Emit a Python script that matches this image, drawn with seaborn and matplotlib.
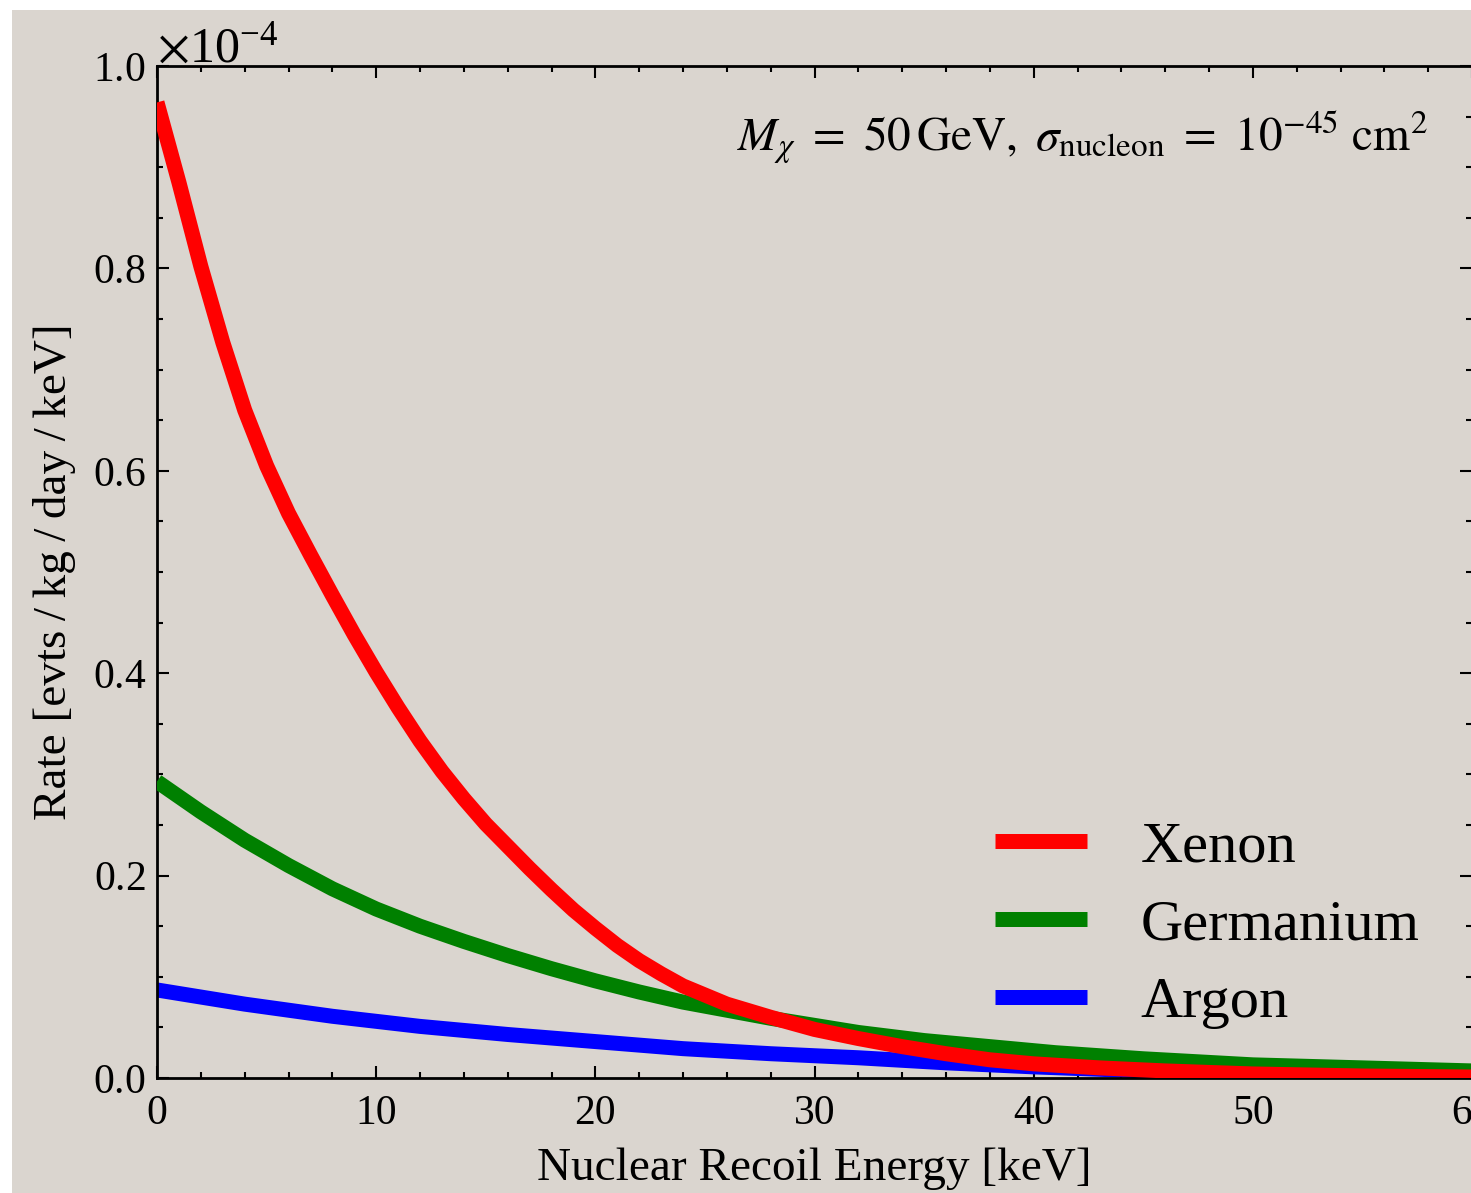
import numpy as np
import pandas as pd
import matplotlib
matplotlib.use("Agg")
import matplotlib.pyplot as plt
import seaborn as sns
from matplotlib.patches import Rectangle
from matplotlib.ticker import MultipleLocator

# ---- data (rate in units of 1e-4 evts/kg/day/keV) ----
SCALE = 1e-4
xenon_E = [0, 1, 2, 3, 4, 5, 6, 7, 8, 9, 10, 11, 12, 13, 14, 15, 16, 17, 18, 19, 20, 21, 22, 23, 24,
           26, 28, 30, 32, 34, 36, 38, 40, 43, 46, 50, 55, 60]
xenon_R = [0.964, 0.885, 0.802, 0.727, 0.660, 0.605, 0.558, 0.517, 0.477, 0.438, 0.401, 0.366,
           0.333, 0.303, 0.276, 0.251, 0.229, 0.207, 0.186, 0.166, 0.148, 0.131, 0.116, 0.103, 0.091,
           0.073, 0.060, 0.048, 0.039, 0.031, 0.024, 0.018, 0.014, 0.010, 0.007, 0.004, 0.002, 0.001]

germanium_E = [0, 2, 4, 6, 8, 10, 12, 14, 16, 18, 20, 22, 24, 26, 28, 30, 32, 35, 38, 41, 45, 50, 55, 60]
germanium_R = [0.293, 0.263, 0.235, 0.210, 0.187, 0.167, 0.150, 0.135, 0.121, 0.108, 0.096, 0.085,
               0.075, 0.067, 0.059, 0.052, 0.045, 0.037, 0.031, 0.025, 0.019, 0.013, 0.010, 0.007]

argon_E = [0, 4, 8, 12, 16, 20, 24, 28, 32, 36, 40, 45, 50, 55, 60]
argon_R = [0.087, 0.073, 0.061, 0.051, 0.043, 0.036, 0.029, 0.024, 0.020, 0.015, 0.011, 0.007, 0.004, 0.002, 0.001]

series = [("Xenon", xenon_E, xenon_R, "#ff0000", 4),
          ("Germanium", germanium_E, germanium_R, "#008000", 3),
          ("Argon", argon_E, argon_R, "#0000ff", 2)]

x_label = "Nuclear Recoil Energy [keV]"
y_label = "Rate [evts\u2009/\u2009kg\u2009/\u2009day\u2009/\u2009keV]"
annotation = r"$M_\chi\ =\ 50\,\mathrm{GeV},\ \sigma_{\mathrm{nucleon}}\ =\ 10^{-45}\ \mathrm{cm}^2$"

# ---- style ----
sns.set_theme(style="ticks")
BG = "#dad5cf"
plt.rcParams["font.family"] = ["Liberation Serif", "DejaVu Serif"]
plt.rcParams["mathtext.fontset"] = "stix"
plt.rcParams["axes.edgecolor"] = "black"
plt.rcParams["xtick.color"] = "black"
plt.rcParams["ytick.color"] = "black"
plt.rcParams["text.color"] = "black"
plt.rcParams["axes.labelcolor"] = "black"

fig = plt.figure(figsize=(14.71, 11.93), dpi=100, facecolor="white")
fig.patches.append(Rectangle((12 / 1471, 0), 1, 1 - 10 / 1193, transform=fig.transFigure,
                             facecolor=BG, edgecolor="none", zorder=-10))
ax = fig.add_axes([157 / 1471, 1 - 1078 / 1193, 1315 / 1471, (1078 - 66) / 1193])
ax.set_facecolor("none")

for name, E, R, color, z in series:
    df = pd.DataFrame({"E": E, "R": np.asarray(R) * SCALE})
    sns.lineplot(data=df, x="E", y="R", ax=ax, color=color, linewidth=10.8,
                 label=name, zorder=z, solid_capstyle="butt", solid_joinstyle="round")

ax.set_xlim(0, 60)
ax.set_ylim(0, 1.0e-4)
ax.xaxis.set_major_locator(MultipleLocator(10))
ax.xaxis.set_minor_locator(MultipleLocator(2))
ax.yaxis.set_major_locator(MultipleLocator(0.2e-4))
ax.yaxis.set_minor_locator(MultipleLocator(0.05e-4))
ax.ticklabel_format(style="sci", axis="y", scilimits=(-4, -4), useMathText=True)
ax.tick_params(which="both", direction="in", top=True, right=True, width=1.5, labelsize=30)
ax.tick_params(axis="x", pad=12)
ax.tick_params(axis="y", pad=8)
ax.tick_params(which="major", length=8.5)
ax.tick_params(which="minor", length=4.3)
ax.yaxis.get_offset_text().set_fontsize(36)
for s in ax.spines.values():
    s.set_linewidth(2.0)
    s.set_visible(True)

ax.set_xlabel(x_label, fontsize=34, labelpad=10)
ax.set_ylabel(y_label, fontsize=34, labelpad=12)

ax.text(0.966, 0.93, annotation, transform=ax.transAxes, ha="right", va="center", fontsize=34)

leg = ax.legend(loc="lower right", bbox_to_anchor=(0.960, 0.048), frameon=False, fontsize=42,
                handlelength=1.58, handletextpad=0.92, labelspacing=0.43, borderaxespad=0, borderpad=0)

fig.savefig("out.png", dpi=100, facecolor="white")
